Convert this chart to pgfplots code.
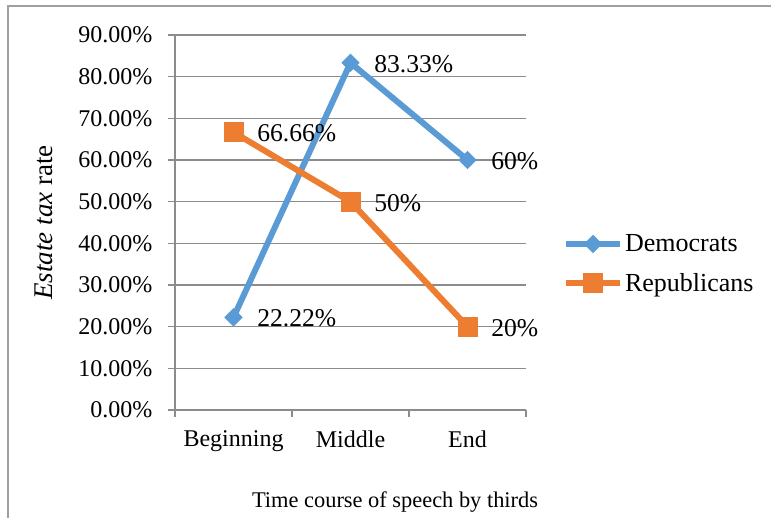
\documentclass[border=0pt]{standalone}
\usepackage{pgfplots}
\pgfplotsset{compat=1.18}
\usepackage{fontspec}
\setmainfont{Liberation Serif}
\definecolor{dem}{RGB}{91,155,213}
\definecolor{rep}{RGB}{237,125,49}
\definecolor{gridgray}{RGB}{140,140,140}
\definecolor{framegray}{RGB}{160,160,160}
\begin{document}
\begin{tikzpicture}[font=\fontsize{24pt}{28pt}\selectfont]
\draw[framegray, line width=1.5pt] (8pt,512pt) rectangle (800pt,-30pt);
\begin{axis}[
  at={(175pt,108pt)}, anchor=south west,
  scale only axis, width=351pt, height=375pt,
  xmin=0.5, xmax=3.5, ymin=0, ymax=90,
  axis x line=bottom, axis y line=left,
  axis line style={-, gridgray, line width=1.2pt},
  xtick={1,2,3}, xticklabels={Beginning,Middle,End},
  minor xtick={0.5,1.5,2.5,3.5},
  major x tick style={draw=none},
  minor x tick style={gridgray, line width=1.2pt},
  minor tick length=7pt,
  ytick={0,10,...,90},
  yticklabels={0.00\%,10.00\%,20.00\%,30.00\%,40.00\%,50.00\%,60.00\%,70.00\%,80.00\%,90.00\%},
  major tick length=7pt, tick align=outside,
  y tick style={gridgray, line width=1.2pt},
  ymajorgrids, major grid style={gridgray, line width=1.2pt},
  /pgf/number format/assume math mode=true,
  yticklabel style={xshift=-12pt},
  xticklabel style={yshift=-10pt},
  xlabel={\fontsize{22.4pt}{26pt}\selectfont Time course of speech by thirds},
  xlabel style={at={(axis description cs:0.627,-0.245)}, anchor=center},
  ylabel={\fontsize{27pt}{31pt}\selectfont\textit{Estate tax} rate},
  ylabel style={at={(axis description cs:-0.373,0.5)}, anchor=center},
  clip=false,
  legend style={draw=none, fill=none, at={(axis description cs:1.105,0.39)}, anchor=west,
    row sep=16pt, inner sep=0pt,
    /tikz/every even column/.append style={column sep=0pt}},
  legend cell align=left,
  legend image code/.code={\draw[mark repeat=2,mark phase=2] plot coordinates {(0pt,0pt) (27pt,0pt) (54pt,0pt)};},
  nodes near coords, point meta=explicit symbolic,
  nodes near coords style={anchor=west, xshift=20pt, yshift=-1pt, text=black, font=\fontsize{25.6pt}{30pt}\selectfont},
]
\addplot[dem, line width=6pt, mark=square*, mark size=6pt, mark options={line width=1pt, rotate=45}]
  coordinates {(1,22.22)[22.22\%] (2,83.33)[83.33\%] (3,60)[60\%]};
\addlegendentry{\fontsize{26pt}{30pt}\selectfont Democrats}
\addplot[rep, line width=6pt, mark=square*, mark size=9.5pt, mark options={line width=1pt}]
  coordinates {(1,66.66)[66.66\%] (2,50)[50\%] (3,20)[20\%]};
\addlegendentry{\fontsize{26pt}{30pt}\selectfont Republicans}
\end{axis}
\pgfresetboundingbox
\path[use as bounding box] (0pt,0pt) rectangle (771pt,518pt);
\end{tikzpicture}
\end{document}
